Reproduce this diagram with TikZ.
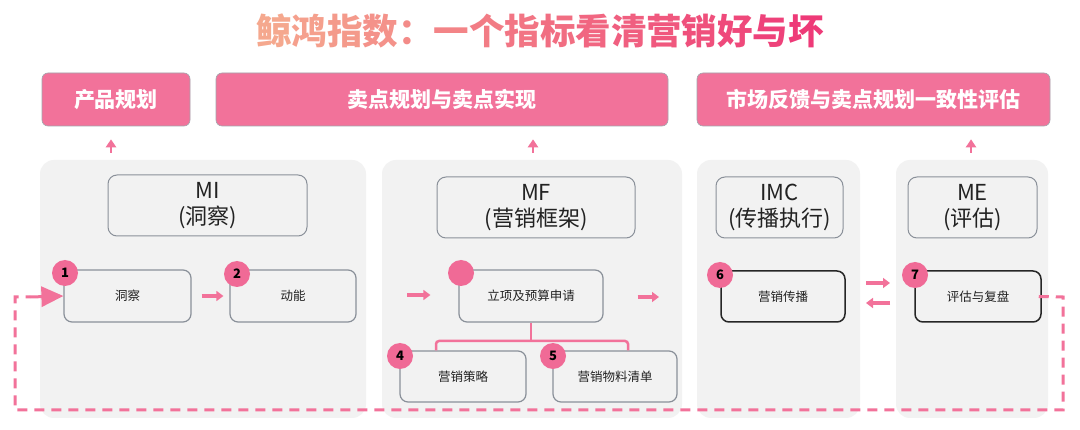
\documentclass[tikz,border=0pt]{standalone}
\usepackage{fontspec}
\setmainfont{Noto Sans CJK SC}
\usetikzlibrary{arrows.meta}
\definecolor{pk}{HTML}{F2729A}
\definecolor{pkd}{HTML}{F06A96}
\definecolor{panelgray}{HTML}{F2F2F2}
\definecolor{hdrgray}{HTML}{8A9099}
\definecolor{txt}{HTML}{222222}
\definecolor{tA}{HTML}{F5A88E}
\definecolor{tB}{HTML}{EE3A78}
\newcommand{\tch}[2]{\textcolor{tA!#1!tB}{#2}}
\begin{document}
\begin{tikzpicture}[x=1pt,y=-1pt,
  topbox/.style={draw=hdrgray!80, fill=pk, rounded corners=6pt, text=white, font=\bfseries\fontsize{21}{24}\selectfont, line width=0.6pt, inner sep=0pt},
  panel/.style={fill=panelgray, rounded corners=14pt, draw=none, inner sep=0pt},
  hdr/.style={draw=hdrgray, fill=panelgray, rounded corners=9pt, line width=1pt, align=center, font=\fontsize{22}{26}\selectfont, text=txt, inner sep=0pt},
  proc/.style={draw=hdrgray, fill=panelgray, rounded corners=8pt, line width=1.2pt, font=\fontsize{12.5}{15}\selectfont, text=txt, inner sep=0pt},
  procdark/.style={proc, draw=black!85, line width=1.5pt},
  badge/.style={circle, fill=pkd, minimum size=26pt, inner sep=0pt, font=\bfseries\fontsize{13}{15}\selectfont, text=black},
  sarrow/.style={draw=pk, line width=3.5pt, -{Triangle[length=7pt,width=10pt]}},
  uarrow/.style={draw=pk, line width=2.5pt, -{Triangle[length=8pt,width=10pt]}},
  loopline/.style={draw=pk, line width=3pt, dash pattern=on 10pt off 7pt},
  brk/.style={draw=pk, line width=2.5pt, rounded corners=3pt},
]
\useasboundingbox[fill=white] (0,0) rectangle (1080,430);

% title
\node[font=\bfseries\fontsize{35.5}{40}\selectfont] (title) at (540,31) {%
\tch{100}{鲸}\tch{93}{鸿}\tch{87}{指}\tch{80}{数}\tch{74}{：}\tch{67}{一}\tch{60}{个}\tch{54}{指}\tch{47}{标}\tch{40}{看}\tch{34}{清}\tch{27}{营}\tch{20}{销}\tch{14}{好}\tch{7}{与}\tch{0}{坏}};

% top boxes
\node[topbox, minimum width=148pt, minimum height=53pt] (t1) at (116,99.5) {产品规划};
\node[topbox, minimum width=452pt, minimum height=53pt] (t2) at (442,99.5) {卖点规划与卖点实现};
\node[topbox, minimum width=353pt, minimum height=53pt] (t3) at (873.5,99.5) {市场反馈与卖点规划一致性评估};

% panels
\node[panel, minimum width=326pt, minimum height=258pt] (p1) at (203,289) {};
\node[panel, minimum width=300pt, minimum height=258pt] (p2) at (532,289) {};
\node[panel, minimum width=163pt, minimum height=258pt] (p3) at (778.5,289) {};
\node[panel, minimum width=152pt, minimum height=258pt] (p4) at (972,289) {};

% up arrows
\coordinate (u1) at (111,153);
\coordinate (u2) at (533,153);
\coordinate (u3) at (971,153);
\draw[uarrow] (u1) -- ([yshift=-13pt]u1 |- t1.south);
\draw[uarrow] (u2) -- ([yshift=-13pt]u2 |- t2.south);
\draw[uarrow] (u3) -- ([yshift=-13pt]u3 |- t3.south);

% headers
\node[hdr, minimum width=199pt, minimum height=61pt] (h1) at (207.5,205.5) {MI\\(洞察)};
\node[hdr, minimum width=198pt, minimum height=61pt] (h2) at (536,207.5) {MF\\(营销框架)};
\node[hdr, minimum width=127pt, minimum height=61pt] (h3) at (779.5,207.5) {IMC\\(传播执行)};
\node[hdr, minimum width=129pt, minimum height=61pt] (h4) at (972.5,207.5) {ME\\(评估)};

% loop coordinates
\coordinate (lr1) at (1063,297);
\coordinate (lr2) at (1063,410);
\coordinate (ll1) at (15,410);
\coordinate (ll2) at (15,297);
\coordinate (ls) at (30,297);

% process boxes
\node[proc, minimum width=127pt, minimum height=52pt] (e1) at (127.5,296) {洞察};
\node[proc, minimum width=126pt, minimum height=52pt] (e2) at (293,296) {动能};
\node[proc, minimum width=144pt, minimum height=52pt] (e3) at (531,296) {立项及预算申请};
\node[proc, minimum width=126pt, minimum height=51pt] (e4) at (463,376.5) {营销策略};
\node[proc, minimum width=124pt, minimum height=51pt] (e5) at (615,376.5) {营销物料清单};
\node[procdark, minimum width=124pt, minimum height=51pt] (e6) at (783,296.5) {营销传播};
\node[procdark, minimum width=126pt, minimum height=51pt] (e7) at (978,296.5) {评估与复盘};

\draw[loopline] ([xshift=-3pt]e7.east) -- (lr1) -- (lr2) -- (ll1) -- (ll2) -- (ls);
\draw[draw=pk, line width=3pt, -{Triangle[length=22pt,width=20pt]}] (ls) -- (e1.west);

% bracket
\coordinate (bl) at (436,341);
\coordinate (br) at (628,341);
\draw[brk] (e4.north -| bl) -- (bl) -- (br) -- (e5.north -| br);
\draw[brk] (e3.south) -- (e3.south |- bl);

% small arrows
\draw[sarrow] ([xshift=10pt]e1.east) -- ([xshift=-6pt]e2.west);
\coordinate (m1) at (407,295);
\coordinate (m2) at (659,297);
\coordinate (c1) at (866,283);
\coordinate (c2) at (890,283);
\coordinate (c3) at (890,303);
\coordinate (c4) at (866,303);
\draw[sarrow] (m1) -- ([xshift=-28pt]e3.west |- m1);
\draw[sarrow] ([xshift=34pt]e3.east |- m2) -- (m2);
\draw[sarrow] (c1) -- (c2);
\draw[sarrow] (c3) -- (c4);

% badges
\node[badge] (b1) at (65,273) {1};
\node[badge] (b2) at (237,274) {2};
\node[badge] (b3) at (461,273) {};
\node[badge] (b4) at (400,356) {4};
\node[badge] (b5) at (553,356) {5};
\node[badge] (b6) at (720,275) {6};
\node[badge] (b7) at (915,275) {7};
\end{tikzpicture}
\end{document}
